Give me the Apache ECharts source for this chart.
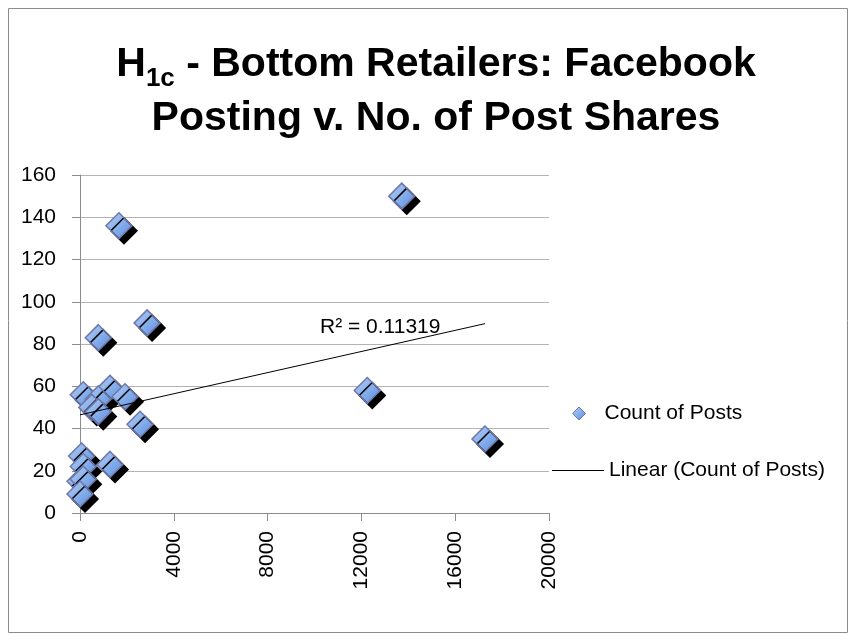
<!DOCTYPE html>
<html>
<head>
<meta charset="utf-8">
<script src="https://cdn.jsdelivr.net/npm/echarts@6/dist/echarts.min.js"></script>
<style>
  html, body { margin: 0; padding: 0; background: #fff; }
  #chart { width: 850px; height: 641px; }
</style>
</head>
<body>
<div id="chart"></div>
<script>
// No. of post shares (x) and count of posts (y)
const shares = [1660, 2860, 780, 140, 1280, 1920, 780, 500, 780, 2560, 70, 140, 1280, 0, 140, 0, 13720, 12250, 17270];
const posts = [136, 90, 83, 56, 59, 55, 54, 50, 48, 42, 27, 22, 23, 15, 16, 9, 150, 58, 35];

const xTicks = [0, 4000, 8000, 12000, 16000, 20000];
const yTicks = [0, 20, 40, 60, 80, 100, 120, 140, 160];
const rSquaredText = 'R² = 0.11319';

// least squares fit for the trendline
function linearFit(xs, ys) {
    const n = xs.length;
    let mx = 0, my = 0;
    for (let i = 0; i < n; i++) { mx += xs[i]; my += ys[i]; }
    mx /= n; my /= n;
    let sxy = 0, sxx = 0;
    for (let i = 0; i < n; i++) {
        sxy += (xs[i] - mx) * (ys[i] - my);
        sxx += (xs[i] - mx) * (xs[i] - mx);
    }
    const slope = sxy / sxx;
    return { slope: slope, intercept: my - slope * mx };
}

const fit = linearFit(shares, posts);
const xMin = Math.min(...shares);
const xMax = Math.max(...shares);
const trend = [[xMin, fit.intercept + fit.slope * xMin], [xMax, fit.intercept + fit.slope * xMax]];
const points = shares.map((x, i) => [x, posts[i]]);

const font = 'Liberation Sans, Arial, sans-serif';
// square turned 45 degrees, like the Excel diamond marker
const diamond = 'path://M1,0 L2,1 L1,2 L0,1 Z';

const chart = echarts.init(document.getElementById('chart'));

const option = {
    animation: false,
    textStyle: { fontFamily: font },
    title: {
        left: 436,
        top: 38,
        textAlign: 'center',
        padding: 0,
        text: '{b|H}{s|1c}{b| - Bottom Retailers: Facebook}\n{b|Posting v. No. of Post Shares}',
        textStyle: {
            rich: {
                b: { fontSize: 41, fontWeight: 'bold', lineHeight: 54, color: '#000', fontFamily: font },
                s: { fontSize: 26, fontWeight: 'bold', lineHeight: 18, verticalAlign: 'bottom', color: '#000', fontFamily: font }
            }
        }
    },
    legend: [
        {
            orient: 'vertical',
            left: 567,
            top: 398,
            itemWidth: 13,
            itemHeight: 13,
            textStyle: { fontSize: 21, color: '#000', fontFamily: font, padding: [0, 0, 0, 14] },
            data: [
                { name: 'Count of Posts', icon: diamond, itemStyle: { shadowColor: 'rgba(0,0,0,0)', shadowOffsetX: 0, shadowOffsetY: 0, borderWidth: 1 } }
            ]
        },
        {
            orient: 'vertical',
            left: 547,
            top: 455,
            itemWidth: 52,
            itemHeight: 1,
            textStyle: { fontSize: 21, color: '#000', fontFamily: font },
            data: [
                { name: 'Linear (Count of Posts)', icon: 'rect', itemStyle: { color: '#000' } }
            ]
        }
    ],
    grid: { left: 80, top: 175, right: 301, bottom: 128 },
    xAxis: {
        type: 'value',
        min: xTicks[0],
        max: xTicks[xTicks.length - 1],
        interval: xTicks[1] - xTicks[0],
        axisLine: { onZero: false, lineStyle: { color: '#8c8c8c' } },
        axisTick: { show: true, length: 8, lineStyle: { color: '#8c8c8c' } },
        splitLine: { show: false },
        axisLabel: {
            rotate: 90, margin: 18, fontSize: 21, color: '#000', fontFamily: font,
            formatter: (v) => String(v)
        }
    },
    yAxis: {
        type: 'value',
        min: yTicks[0],
        max: yTicks[yTicks.length - 1],
        interval: yTicks[1] - yTicks[0],
        axisLine: { show: true, onZero: false, lineStyle: { color: '#8c8c8c' } },
        axisTick: { show: true, length: 8, lineStyle: { color: '#8c8c8c' } },
        splitLine: { show: true, lineStyle: { color: '#b3b3b3' } },
        axisLabel: { margin: 24, fontSize: 21, color: '#000', fontFamily: font }
    },
    series: [
        {
            name: 'Count of Posts',
            type: 'scatter',
            symbol: diamond,
            symbolSize: 26,
            z: 3,
            itemStyle: {
                color: new echarts.graphic.LinearGradient(0, 0, 1, 1, [
                    { offset: 0, color: '#b8d0f5' },
                    { offset: 0.5, color: '#86afec' },
                    { offset: 1, color: '#5a8ad8' }
                ]),
                borderColor: '#6f78a8',
                borderWidth: 1.5,
                opacity: 1,
                shadowColor: '#000',
                shadowBlur: 0,
                shadowOffsetX: 5,
                shadowOffsetY: 5
            },
            data: points
        },
        {
            name: 'Linear (Count of Posts)',
            type: 'line',
            symbol: 'none',
            z: 4,
            lineStyle: { color: '#000', width: 1 },
            itemStyle: { color: '#000' },
            data: trend
        }
    ],
    graphic: [
        {
            type: 'rect',
            silent: true,
            shape: { x: 8.5, y: 8.5, width: 839, height: 624 },
            style: { fill: 'none', stroke: '#8c8c8c', lineWidth: 1 }
        },
        {
            type: 'text',
            left: 320,
            top: 317,
            z: 10,
            style: { text: rSquaredText, fontSize: 21, fill: '#000', fontFamily: font }
        }
    ]
};

chart.setOption(option);
</script>
</body>
</html>
